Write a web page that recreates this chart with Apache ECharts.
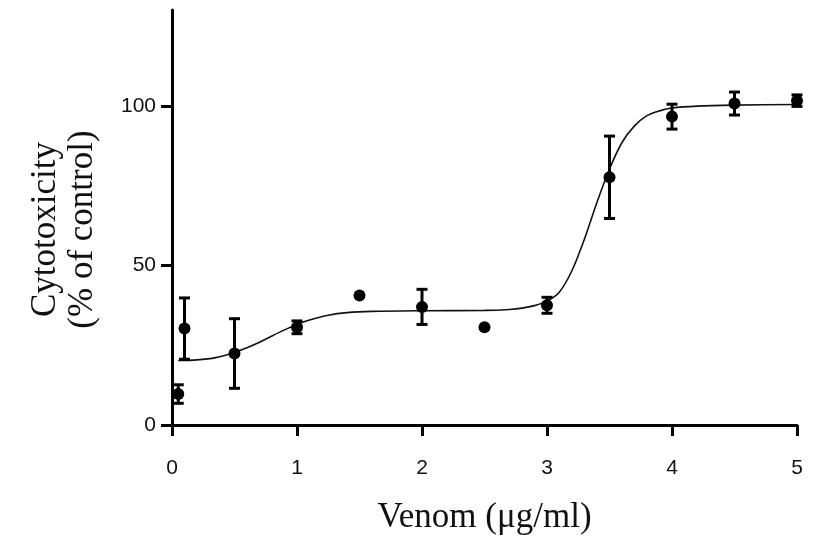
<!DOCTYPE html>
<html>
<head>
<meta charset="utf-8">
<script src="https://cdn.jsdelivr.net/npm/echarts@6/dist/echarts.min.js"></script>
<style>html,body{margin:0;padding:0;background:#fff}#c{width:825px;height:540px}</style>
</head>
<body>
<div id="c"></div>
<script>
// Measured points
var doseX = [0.05, 0.1, 0.5, 1.0, 1.5, 2.0, 2.5, 3.0, 3.5, 4.0, 4.5, 5.0];
var meanY = [9.7, 30.2, 22.4, 30.6, 40.6, 37.0, 30.6, 37.5, 77.6, 96.6, 100.7, 101.6];
var errY  = [2.9, 9.6, 10.9, 2.0, 0, 5.5, 0, 2.5, 12.9, 3.9, 3.6, 1.8];
// Fitted curve
var curveX = [0.05, 0.2, 0.35, 0.5, 0.6, 0.7, 0.8, 0.9, 1.0, 1.1, 1.25, 1.4, 1.6, 2.0, 2.5, 2.7, 2.8, 2.9, 3.0, 3.1, 3.2, 3.3, 3.4, 3.5, 3.6, 3.7, 3.8, 3.9, 4.0, 4.2, 4.5, 5.0];
var curveY = [20.2, 20.4, 21.1, 22.7, 24.2, 25.9, 27.9, 29.8, 31.5, 32.9, 34.4, 35.2, 35.6, 35.8, 35.9, 36.2, 36.6, 37.4, 38.8, 41.7, 48.4, 58.3, 69.8, 80.2, 88.5, 93.7, 96.9, 98.4, 99.3, 99.9, 100.2, 100.4];
// Tick labels
var xTicks = [0, 1, 2, 3, 4, 5];
var yTicks = [0, 50, 100];

var pts = doseX.map(function (x, i) { return [x, meanY[i]]; });
var errs = doseX.map(function (x, i) { return [x, meanY[i] - errY[i], meanY[i] + errY[i]]; })
  .filter(function (d) { return d[2] - d[1] > 0; });
var curve = curveX.map(function (x, i) { return [x, curveY[i]]; });

var chart = echarts.init(document.getElementById('c'));
chart.setOption({
  animation: false,
  backgroundColor: '#fff',
  grid: { left: 172, right: 28, top: 10, bottom: 113, containLabel: false },
  xAxis: {
    type: 'value', min: 0, max: 5, interval: 1,
    name: 'Venom (μg/ml)', nameLocation: 'middle', nameGap: 75,
    nameTextStyle: { fontFamily: 'Liberation Serif', fontSize: 35, color: '#111' },
    axisLine: { show: true, lineStyle: { color: '#000', width: 3 } },
    axisTick: { show: true, length: 11, lineStyle: { color: '#000', width: 3 }, customValues: xTicks },
    axisLabel: { margin: 33, fontFamily: 'Liberation Sans', fontSize: 21, color: '#111', customValues: xTicks },
    splitLine: { show: false }
  },
  yAxis: {
    type: 'value', min: 0, max: 130, interval: 50,
    name: 'Cytotoxicity\n(% of control)', nameLocation: 'middle', nameGap: 71, nameRotate: 90,
    nameTextStyle: { fontFamily: 'Liberation Serif', fontSize: 35, color: '#111', lineHeight: 37, align: 'center', padding: [0, 24, 0, 0] },
    axisLine: { show: true, lineStyle: { color: '#000', width: 3 } },
    axisTick: { show: true, length: 11, lineStyle: { color: '#000', width: 3 }, customValues: yTicks },
    axisLabel: { margin: 16, fontFamily: 'Liberation Sans', fontSize: 21, color: '#111', customValues: yTicks },
    splitLine: { show: false }
  },
  series: [
    {
      type: 'line', data: curve, smooth: 0.3, showSymbol: false,
      lineStyle: { color: '#111', width: 1.6 }, z: 2, silent: true
    },
    {
      type: 'custom', data: errs, z: 3, silent: true,
      renderItem: function (params, api) {
        var x = api.value(0);
        var lo = api.coord([x, api.value(1)]);
        var hi = api.coord([x, api.value(2)]);
        var w = 5.5;
        var st = { stroke: '#000', lineWidth: 3 };
        return { type: 'group', children: [
          { type: 'line', shape: { x1: lo[0], y1: lo[1], x2: hi[0], y2: hi[1] }, style: st },
          { type: 'line', shape: { x1: lo[0] - w, y1: lo[1], x2: lo[0] + w, y2: lo[1] }, style: st },
          { type: 'line', shape: { x1: hi[0] - w, y1: hi[1], x2: hi[0] + w, y2: hi[1] }, style: st }
        ]};
      }
    },
    {
      type: 'scatter', data: pts, symbol: 'circle', symbolSize: 12, z: 4,
      itemStyle: { color: '#000', opacity: 1 }
    }
  ]
});
</script>
</body>
</html>
